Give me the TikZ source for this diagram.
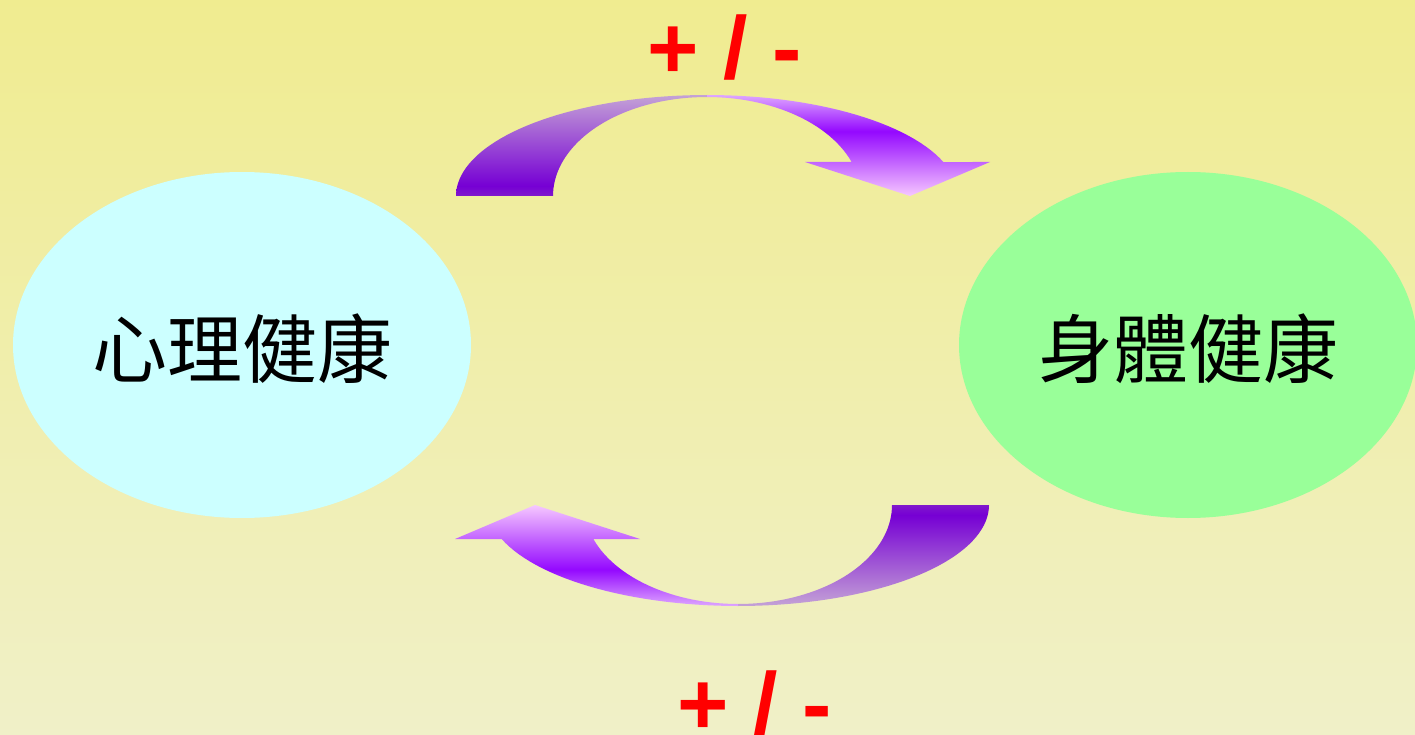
\documentclass[tikz,border=0pt]{standalone}
\usepackage{fontspec}
\setmainfont{Liberation Sans}
\newfontfamily\cjk{Noto Sans CJK TC}
\usetikzlibrary{shapes.geometric}
\definecolor{bgtop}{RGB}{240,236,144}
\definecolor{bgbot}{RGB}{240,240,200}
\definecolor{mindc}{RGB}{204,255,255}
\definecolor{bodyc}{RGB}{153,255,153}
\definecolor{signred}{RGB}{255,0,0}
\definecolor{bandAtop}{RGB}{196,162,214}
\definecolor{bandAbot}{RGB}{118,0,212}
\definecolor{bandAbase}{RGB}{128,24,204}
\definecolor{bandBtop}{RGB}{222,166,255}
\definecolor{bandBmid}{RGB}{148,8,255}
\definecolor{bandBbot}{RGB}{246,200,255}
\pgfdeclareverticalshading{baseband}{100bp}{color(0bp)=(bandAbase); color(25bp)=(bandAbase); color(30bp)=(bandAbot); color(75bp)=(bandAtop); color(100bp)=(bandAtop)}
\pgfdeclareverticalshading{headband}{100bp}{color(0bp)=(bandBbot); color(25bp)=(bandBbot); color(57bp)=(bandBmid); color(75bp)=(bandBtop); color(100bp)=(bandBtop)}
\tikzset{
  blob/.style={ellipse, draw=none, inner sep=0pt, minimum width=458pt, minimum height=346pt,
    font=\cjk\fontsize{75}{80}\selectfont, text height=70pt, text depth=6pt},
  sign/.style={anchor=base, inner sep=0pt, text=signred, font=\fontsize{88}{90}\selectfont\bfseries},
}
\begin{document}
\begin{tikzpicture}[x=1pt,y=-1pt]
\useasboundingbox (0,0) rectangle (1415,735);
\shade[top color=bgtop, bottom color=bgbot] (0,0) rectangle (1415,735);

\node[blob, fill=mindc] (mind) at (242,345) {心理健康};
\node[blob, fill=bodyc] (body) at (1188,345) {身體健康};

% top curved arrow
\shade[shading=baseband] plot[domain=180:270,samples=40] ({707+251*cos(\x)},{196+101*sin(\x)})
  -- plot[domain=270:180,samples=40] ({707+154*cos(\x)},{196+99*sin(\x)}) -- cycle;
\shade[shading=headband] plot[domain=270:340.33,samples=30] ({707+251*cos(\x)},{196+101*sin(\x)})
  -- (990,162) -- (910,196) -- (805,162)
  -- plot[domain=339.9:270,samples=30] ({707+154*cos(\x)},{196+99*sin(\x)}) -- cycle;

% bottom curved arrow (rotated copy)
\begin{scope}[rotate around={180:(722.5,350.5)}]
\shade[shading=baseband, shading angle=180] plot[domain=180:270,samples=40] ({707+251*cos(\x)},{196+101*sin(\x)})
  -- plot[domain=270:180,samples=40] ({707+154*cos(\x)},{196+99*sin(\x)}) -- cycle;
\shade[shading=headband, shading angle=180] plot[domain=270:340.33,samples=30] ({707+251*cos(\x)},{196+101*sin(\x)})
  -- (990,162) -- (910,196) -- (805,162)
  -- plot[domain=339.9:270,samples=30] ({707+154*cos(\x)},{196+99*sin(\x)}) -- cycle;
\end{scope}

\node[sign] (signtop) at (725,79) {+ / -};
\node[sign] (signbot) at (755,734) {+ / -};
\end{tikzpicture}
\end{document}
